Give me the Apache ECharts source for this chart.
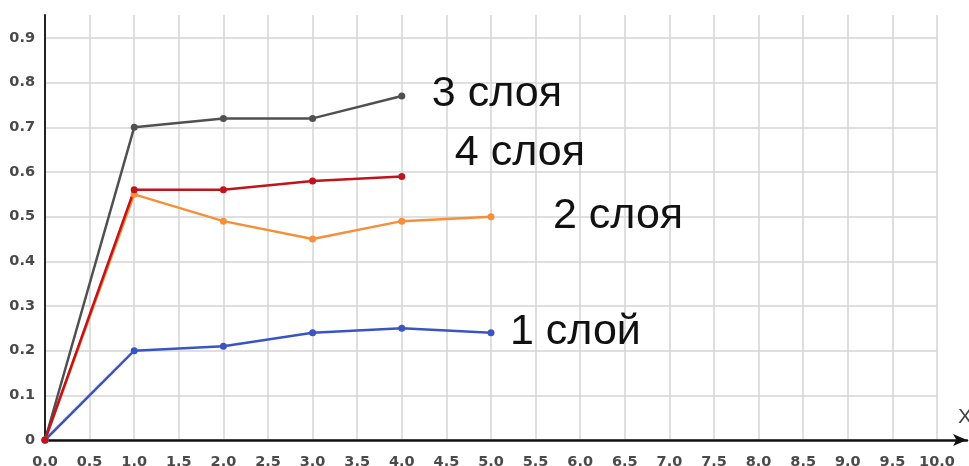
<!DOCTYPE html>
<html>
<head>
<meta charset="utf-8">
<script src="https://cdn.jsdelivr.net/npm/echarts@6/dist/echarts.min.js"></script>
<style>html,body{margin:0;padding:0;background:#fff}#c{width:969px;height:466px}</style>
</head>
<body>
<div id="c"></div>
<script>
const xValues = [0, 1, 2, 3, 4, 5];
const layer1 = [0, 0.20, 0.21, 0.24, 0.25, 0.24];
const layer2 = [0, 0.55, 0.49, 0.45, 0.49, 0.50];
const layer3 = [0, 0.70, 0.72, 0.72, 0.77];
const layer4 = [0, 0.56, 0.56, 0.58, 0.59];
const seriesNames = ['1 слой', '2 слоя', '3 слоя', '4 слоя'];
const xTicks = {min: 0, max: 10, interval: 0.5};
const yTicks = {min: 0, max: 0.9, interval: 0.1};

function pairs(vals) { return vals.map((v, i) => [xValues[i], v]); }

const chart = echarts.init(document.getElementById('c'), null, {renderer: 'canvas'});
const gridLine = {lineStyle: {color: '#d4d4d4', width: 1.5}};
const labelFont = {fontFamily: 'DejaVu Sans', fontSize: 14.5, color: '#4a4a4a', fontWeight: 'bold'};
const bigText = {fontFamily: 'Liberation Sans', fontSize: 43, color: '#111'};

function mkSeries(name, vals, color, offset) {
  return {
    type: 'line', name: name, data: pairs(vals), xAxisIndex: 1, yAxisIndex: 1,
    symbol: 'circle', symbolSize: 7, lineStyle: {color: color, width: 2.5},
    itemStyle: {color: color},
    endLabel: {show: true, formatter: name, offset: offset, ...bigText}
  };
}

chart.setOption({
  animation: false,
  grid: [
    {left: 45, right: 32, top: 15, bottom: 26, outerBoundsMode: 'none', containLabel: false},
    {left: 45, right: 32, top: 38, bottom: 26, outerBoundsMode: 'none', containLabel: false},
    {left: 45, right: 2, top: 15, bottom: 26, outerBoundsMode: 'none', containLabel: false}
  ],
  xAxis: [
    {gridIndex: 0, type: 'value', min: xTicks.min, max: xTicks.max, interval: xTicks.interval,
     axisLine: {show: false}, axisTick: {show: false}, splitLine: {show: true, ...gridLine},
     axisLabel: {margin: 15, formatter: v => v.toFixed(1), ...labelFont}},
    {gridIndex: 1, type: 'value', min: xTicks.min, max: xTicks.max, show: false},
    {gridIndex: 2, type: 'value', min: 0, max: 1, show: true, splitLine: {show: false},
     axisTick: {show: false}, axisLabel: {show: false},
     axisLine: {show: true, symbol: ['none', 'arrow'], symbolSize: [9, 14], lineStyle: {color: '#111', width: 2.5}},
     name: 'X', nameLocation: 'end', nameGap: -9,
     nameTextStyle: {fontFamily: 'Liberation Sans', fontSize: 21, color: '#444', verticalAlign: 'bottom', padding: [0, 0, 12, 0]}}
  ],
  yAxis: [
    {gridIndex: 0, type: 'value', min: 0, max: 1, splitLine: {show: false}, axisTick: {show: false},
     axisLabel: {show: false}, axisLine: {show: true, lineStyle: {color: '#222', width: 2}}},
    {gridIndex: 1, type: 'value', min: yTicks.min, max: yTicks.max, interval: yTicks.interval,
     axisLine: {show: false}, axisTick: {show: false}, splitLine: {show: true, ...gridLine},
     axisLabel: {margin: 10, formatter: v => v === 0 ? '0' : v.toFixed(1), ...labelFont}},
    {gridIndex: 2, type: 'value', min: 0, max: 1, show: false}
  ],
  series: [
    mkSeries(seriesNames[0], layer1, '#3a54c4', [11, -1]),
    mkSeries(seriesNames[1], layer2, '#f58f3a', [54, -1]),
    mkSeries(seriesNames[2], layer3, '#505050', [22, -2]),
    mkSeries(seriesNames[3], layer4, '#c0141c', [45, -23])
  ]
});
</script>
</body>
</html>
